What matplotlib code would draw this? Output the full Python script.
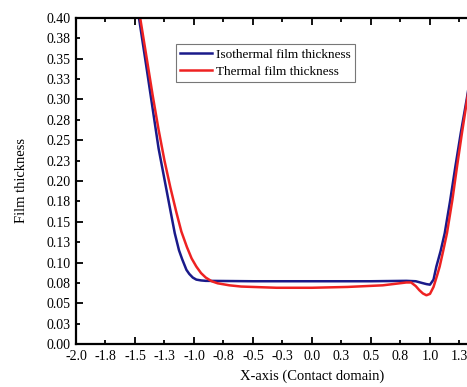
import matplotlib
matplotlib.use('Agg')
from matplotlib import pyplot as plt
from matplotlib.ticker import FixedLocator, FixedFormatter

# isothermal film thickness (blue)
iso_x = [-1.55, -1.466, -1.40, -1.30, -1.20, -1.163, -1.127, -1.10, -1.064, -1.04, -1.01,
         -0.98, -0.94, -0.9, -0.5, 0.0, 0.5, 0.8, 0.88, 0.93, 0.97, 1.0, 1.03, 1.054,
         1.09, 1.125, 1.17, 1.215, 1.26, 1.311, 1.40]
iso_y = [0.48, 0.40, 0.337, 0.24, 0.164, 0.136, 0.115, 0.104, 0.091, 0.086, 0.0815,
         0.079, 0.078, 0.0775, 0.077, 0.077, 0.077, 0.0775, 0.077, 0.075, 0.0735, 0.0728, 0.079, 0.095,
         0.114, 0.136, 0.175, 0.2175, 0.258, 0.30, 0.38]

# thermal film thickness (red)
th_x = [-1.55, -1.456, -1.40, -1.35, -1.30, -1.25, -1.20, -1.15, -1.107, -1.06, -1.02,
        -0.98, -0.94, -0.90, -0.85, -0.80, -0.70, -0.6, -0.3, 0.0, 0.3, 0.6, 0.8, 0.84,
        0.88, 0.91, 0.94, 0.97, 1.00, 1.03, 1.06, 1.082, 1.11, 1.144, 1.19, 1.229, 1.27,
        1.32, 1.40]
th_y = [0.49, 0.40, 0.35, 0.305, 0.263, 0.225, 0.192, 0.162, 0.138, 0.119, 0.105,
        0.095, 0.087, 0.0815, 0.077, 0.0745, 0.072, 0.0705, 0.069, 0.069, 0.070, 0.072, 0.0755, 0.0755,
        0.071, 0.066, 0.062, 0.0598, 0.0615, 0.070, 0.084, 0.095, 0.113, 0.136, 0.177, 0.2175, 0.258,
        0.305, 0.38]

# tick positions and labels (labels as printed on the chart)
x_major = [-2.0, -1.5, -1.0, -0.5, 0.0, 0.5, 1.0, 1.5, 2.0]
x_major_lab = ['-2.0', '-1.5', '-1.0', '-0.5', '0.0', '0.5', '1.0', '1.5', '2.0']
x_minor = [-1.75, -1.25, -0.75, -0.25, 0.25, 0.75, 1.25, 1.75]
x_minor_lab = ['-1.8', '-1.3', '-0.8', '-0.3', '0.3', '0.8', '1.3', '1.8']
y_major = [0.00, 0.05, 0.10, 0.15, 0.20, 0.25, 0.30, 0.35, 0.40]
y_major_lab = ['0.00', '0.05', '0.10', '0.15', '0.20', '0.25', '0.30', '0.35', '0.40']
y_minor = [0.025, 0.075, 0.125, 0.175, 0.225, 0.275, 0.325, 0.375]
y_minor_lab = ['0.03', '0.08', '0.13', '0.18', '0.23', '0.28', '0.33', '0.38']


def main():
    plt.rcParams['font.family'] = ['Liberation Serif', 'DejaVu Serif']
    fig = plt.figure(figsize=(4.67, 3.87), dpi=100)
    # axes runs past the right edge (the original is cropped there)
    ax = fig.add_axes([0.1627, 0.1111, 1.0107, 0.8424])

    ax.plot(iso_x, iso_y, color='#1a1a8a', lw=1.8, label='Isothermal film thickness')
    ax.plot(th_x, th_y, color='#ee2222', lw=1.8, label='Thermal film thickness')

    ax.set_xlim(-2.0, 2.0)
    ax.set_ylim(0.0, 0.40)

    ax.xaxis.set_major_locator(FixedLocator(x_major))
    ax.xaxis.set_major_formatter(FixedFormatter(x_major_lab))
    ax.xaxis.set_minor_locator(FixedLocator(x_minor))
    ax.xaxis.set_minor_formatter(FixedFormatter(x_minor_lab))
    ax.yaxis.set_major_locator(FixedLocator(y_major))
    ax.yaxis.set_major_formatter(FixedFormatter(y_major_lab))
    ax.yaxis.set_minor_locator(FixedLocator(y_minor))
    ax.yaxis.set_minor_formatter(FixedFormatter(y_minor_lab))

    ax.tick_params(which='both', direction='in', top=True, right=False,
                   labelsize=10, width=1.3, pad=4)
    ax.tick_params(which='major', length=5)
    ax.tick_params(which='minor', length=3)
    for s in ax.spines.values():
        s.set_linewidth(1.6)

    ax.set_xlabel('X-axis (Contact domain)', fontsize=10.5, labelpad=5)
    ax.set_ylabel('Film thickness', fontsize=10.5, labelpad=13)

    leg = ax.legend(loc='upper left', bbox_to_anchor=(0.2115, 0.92), fontsize=9.5,
                    frameon=True, fancybox=False, handlelength=2.4, handletextpad=0.3,
                    borderpad=0.35, labelspacing=0.35, borderaxespad=0)
    leg.get_frame().set_edgecolor('#555555')
    leg.get_frame().set_linewidth(0.8)

    fig.savefig('out.png', dpi=100)


if __name__ == '__main__':
    main()
